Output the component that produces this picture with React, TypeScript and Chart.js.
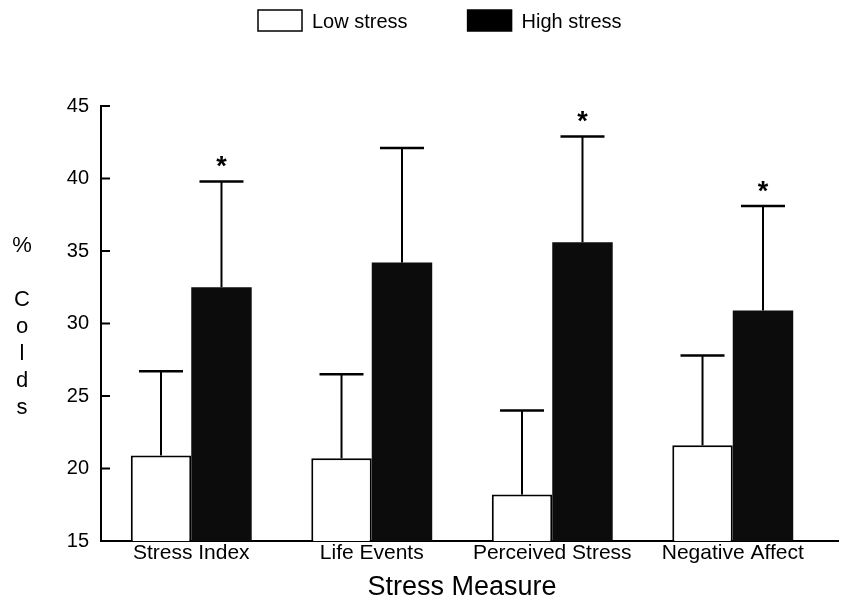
import React, { useEffect, useRef } from "react";
import { Chart, registerables } from "chart.js";

Chart.register(...registerables);

const categories = ["Stress Index", "Life Events", "Perceived Stress", "Negative Affect"];
const lowStress = [20.9, 20.7, 18.2, 21.6];
const lowStressErr = [5.8, 5.8, 5.8, 6.2];
const highStress = [32.5, 34.2, 35.6, 30.9];
const highStressErr = [7.3, 7.9, 7.3, 7.2];
const highSignificant = [true, false, true, true];
const yTicks = [15, 20, 25, 30, 35, 40, 45];
const seriesLabels = ["Low stress", "High stress"];
const yTitle = "% Colds";
const xTitle = "Stress Measure";

const FONT = "'Liberation Sans', Arial, Helvetica, sans-serif";

const errorBarPlugin = {
  id: "errorBars",
  afterDatasetsDraw(chart: any) {
    const ctx = chart.ctx;
    const yScale = chart.scales.y;
    const errs = [lowStressErr, highStressErr];
    chart.data.datasets.forEach((ds: any, di: number) => {
      const meta = chart.getDatasetMeta(di);
      meta.data.forEach((el: any, i: number) => {
        const v = ds.data[i];
        const top = yScale.getPixelForValue(v + errs[di][i]);
        ctx.save();
        ctx.strokeStyle = "#000";
        ctx.lineWidth = 2;
        ctx.beginPath();
        ctx.moveTo(el.x, el.y);
        ctx.lineTo(el.x, top);
        ctx.stroke();
        ctx.lineWidth = 2.5;
        ctx.beginPath();
        ctx.moveTo(el.x - 22, top);
        ctx.lineTo(el.x + 22, top);
        ctx.stroke();
        if (di === 1 && highSignificant[i]) {
          ctx.fillStyle = "#000";
          ctx.font = `bold 27px ${FONT}`;
          ctx.textAlign = "center";
          ctx.textBaseline = "alphabetic";
          ctx.fillText("*", el.x, top - 6);
        }
        ctx.restore();
      });
    });
  },
};

const decorPlugin = {
  id: "decor",
  afterDraw(chart: any) {
    const ctx = chart.ctx;
    const { left, right, bottom } = chart.chartArea;
    const yScale = chart.scales.y;
    ctx.save();
    ctx.strokeStyle = "#000";
    ctx.lineWidth = 2;
    yScale.ticks.forEach((t: any) => {
      const y = yScale.getPixelForValue(t.value);
      ctx.beginPath();
      ctx.moveTo(left, y);
      ctx.lineTo(left + 9, y);
      ctx.stroke();
    });
    ctx.beginPath();
    ctx.moveTo(right - 1, bottom);
    ctx.lineTo(right + 16, bottom);
    ctx.stroke();

    ctx.fillStyle = "#000";
    ctx.font = `22px ${FONT}`;
    ctx.textAlign = "center";
    ctx.textBaseline = "middle";
    const chars = yTitle.split("");
    chars.forEach((c, i) => {
      if (c !== " ") ctx.fillText(c, 22, 246 + i * 27);
    });

    const colors = ["#fff", "#000"];
    let x = 258;
    ctx.font = `20px ${FONT}`;
    ctx.textAlign = "left";
    seriesLabels.forEach((label, i) => {
      ctx.fillStyle = colors[i];
      ctx.fillRect(x, 10, 44, 21);
      ctx.lineWidth = 1.5;
      ctx.strokeStyle = "#000";
      ctx.strokeRect(x, 10, 44, 21);
      ctx.fillStyle = "#000";
      ctx.fillText(label, x + 54, 22);
      const w = ctx.measureText(label).width;
      x += 54 + w + 60;
    });
    ctx.restore();
  },
};

export default function App() {
  const ref = useRef<HTMLCanvasElement | null>(null);
  useEffect(() => {
    if (!ref.current) return;
    const chart = new Chart(ref.current, {
      type: "bar",
      data: {
        labels: categories,
        datasets: [
          {
            label: seriesLabels[0],
            data: lowStress,
            backgroundColor: "#ffffff",
            borderColor: "#000000",
            borderWidth: 2,
          },
          {
            label: seriesLabels[1],
            data: highStress,
            backgroundColor: "#0c0c0c",
            borderColor: "#000000",
            borderWidth: 0,
          },
        ],
      },
      options: {
        responsive: false,
        animation: false,
        devicePixelRatio: 1,
        layout: { padding: { top: 106, right: 22, left: 0, bottom: 0 } },
        plugins: {
          legend: { display: false },
          tooltip: { enabled: false },
        },
        datasets: {
          bar: { categoryPercentage: 0.67, barPercentage: 1 },
        },
        scales: {
          x: {
            grid: { display: false, drawTicks: false },
            border: { display: true, color: "#000", width: 2 },
            ticks: {
              color: "#000",
              padding: 0,
              font: { family: FONT, size: 21 },
              maxRotation: 0,
            },
            title: {
              display: true,
              text: xTitle,
              color: "#000",
              font: { family: FONT, size: 27 },
              padding: { top: 0, bottom: 2 },
            },
            afterFit(scale: any) {
              scale.height = 65;
            },
          },
          y: {
            min: 15,
            max: 45,
            afterBuildTicks(scale: any) {
              scale.ticks = yTicks.map((v) => ({ value: v }));
            },
            grid: { display: false, drawTicks: false },
            border: { display: true, color: "#000", width: 2 },
            ticks: {
              color: "#000",
              padding: 12,
              font: { family: FONT, size: 20 },
            },
            afterFit(scale: any) {
              scale.width = 101;
            },
          },
        },
      },
      plugins: [errorBarPlugin, decorPlugin],
    });
    return () => chart.destroy();
  }, []);
  return (
    <div style={{ position: "fixed", left: 0, top: 0, width: 845, height: 606, background: "#fff" }}>
      <canvas ref={ref} width={845} height={606} style={{ width: 845, height: 606, display: "block" }} />
    </div>
  );
}
